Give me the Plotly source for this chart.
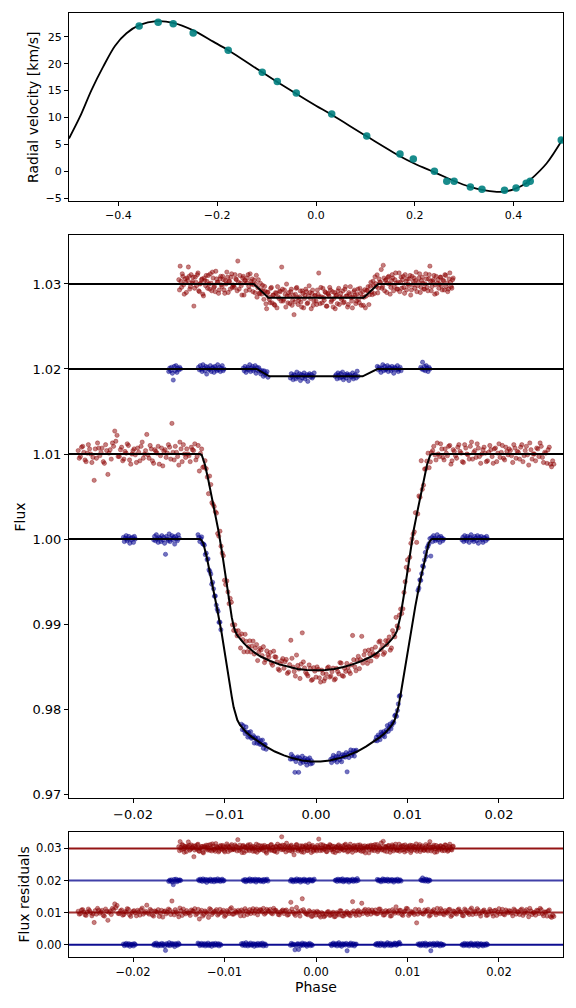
import numpy as np
import plotly.graph_objects as go

# ---------------- Radial velocity panel ----------------
rv_phase = [-0.358, -0.3195, -0.289, -0.2486, -0.1777, -0.1088, -0.0784, -0.0399, 0.0318, 0.1027,
            0.170, 0.197, 0.2397, 0.2647, 0.2796, 0.3125, 0.336, 0.3816, 0.405, 0.4255, 0.4336, 0.4965]
rv_values = [27.0, 27.7, 27.4, 25.7, 22.5, 18.4, 16.7, 14.55, 10.65, 6.56,
             3.2, 2.3, 0.0, -1.86, -1.86, -2.9, -3.35, -3.5, -3.1, -2.2, -1.86, 5.8]

rv_model_phase = [-0.5, -0.478, -0.4545, -0.431, -0.407, -0.3836, -0.3566, -0.323, -0.289, -0.2486,
                  -0.208, -0.1777, -0.1088, -0.0784, -0.0399, 0.0, 0.0318, 0.1027, 0.170, 0.200,
                  0.2377, 0.2647, 0.2796, 0.3125, 0.336, 0.366, 0.3816, 0.400, 0.4255, 0.4336,
                  0.467, 0.5]
rv_model_values = [6.1, 10.1, 15.1, 19.4, 23.3, 25.65, 27.2, 27.9, 27.6, 26.2,
                   24.1, 22.5, 18.4, 16.6, 14.4, 12.2, 10.5, 6.5, 2.8, 1.4,
                   -0.1, -1.2, -1.8, -2.9, -3.45, -3.8, -3.75, -3.35, -2.2, -1.6,
                   1.5, 6.1]

# ---------------- Transit / eclipse models ----------------
blue_pri_model_phase = [-0.0300, -0.01268, -0.01250, -0.01232, -0.01195, -0.01140, -0.01085, -0.01031,
                        -0.00976, -0.00921, -0.00900, -0.00885, -0.00860, -0.00831, -0.00790, -0.00757,
                        -0.00700, -0.00650, -0.00550, -0.00450, -0.00350, -0.00250, -0.00150, -0.00050,
                        0.0,
                        0.00050, 0.00150, 0.00250, 0.00350, 0.00450, 0.00550, 0.00650, 0.00700,
                        0.00757, 0.00790, 0.00831, 0.00860, 0.00885, 0.00900, 0.00921, 0.00976,
                        0.01031, 0.01085, 0.01140, 0.01195, 0.01232, 0.01250, 0.01268, 0.0300]
blue_pri_model_flux = [1.0, 1.0, 0.99985, 0.99949, 0.99792, 0.99518, 0.99204, 0.98891,
                       0.98498, 0.98145, 0.98020, 0.97949, 0.97870, 0.97812, 0.97757, 0.97720,
                       0.97670, 0.97630, 0.97560, 0.97500, 0.97455, 0.97420, 0.97395, 0.97383,
                       0.97380,
                       0.97383, 0.97395, 0.97420, 0.97455, 0.97500, 0.97560, 0.97630, 0.97670,
                       0.97720, 0.97757, 0.97812, 0.97870, 0.97949, 0.98020, 0.98145, 0.98498,
                       0.98891, 0.99204, 0.99518, 0.99792, 0.99949, 0.99985, 1.0, 1.0]

red_pri_model_phase = [-0.0300, -0.01268, -0.01249, -0.01213, -0.01177, -0.01140, -0.01104, -0.01068,
                       -0.01031, -0.00995, -0.00958, -0.00921, -0.00900, -0.00885, -0.00860, -0.00831,
                       -0.00790, -0.00757, -0.00700, -0.00667, -0.00600, -0.00500, -0.00400, -0.00300,
                       -0.00200, -0.00100, 0.0,
                       0.00100, 0.00200, 0.00300, 0.00400, 0.00500, 0.00600, 0.00667, 0.00700,
                       0.00757, 0.00790, 0.00831, 0.00860, 0.00885, 0.00900, 0.00921, 0.00958,
                       0.00995, 0.01031, 0.01068, 0.01104, 0.01140, 0.01177, 0.01213, 0.01249,
                       0.01268, 0.0300]
red_pri_model_flux = [1.01, 1.01, 1.00988, 1.00871, 1.00694, 1.00498, 1.00302, 1.00106,
                      0.99871, 0.99596, 0.99321, 0.99080, 0.98975, 0.98920, 0.98865, 0.98825,
                      0.98775, 0.98740, 0.98690, 0.98660, 0.98615, 0.98565, 0.98525, 0.98495,
                      0.98472, 0.98460, 0.98455,
                      0.98460, 0.98472, 0.98495, 0.98525, 0.98565, 0.98615, 0.98660, 0.98690,
                      0.98740, 0.98775, 0.98825, 0.98865, 0.98920, 0.98975, 0.99080, 0.99321,
                      0.99596, 0.99871, 1.00106, 1.00302, 1.00498, 1.00694, 1.00871, 1.00988,
                      1.01, 1.01]

blue_sec_model_phase = [-0.0300, -0.0065, -0.0051, 0.0051, 0.0067, 0.0300]
blue_sec_model_flux = [1.02, 1.02, 1.01914, 1.01914, 1.02, 1.02]

red_sec_model_phase = [-0.0300, -0.0068, -0.0052, 0.0052, 0.0068, 0.0300]
red_sec_model_flux = [1.03, 1.03, 1.02839, 1.02839, 1.03, 1.03]

# ---------------- Photometric points: phase (1e-5) and residual (1e-4) ----------------
red_pri_phase_e5 = [
    -2600, -2575, -2550, -2525, -2500, -2475, -2450, -2425, -2400, -2375,
    -2350, -2325, -2300, -2275, -2250, -2225, -2200, -2175, -2150, -2125,
    -2100, -2075, -2050, -2025, -2000, -1975, -1950, -1925, -1900, -1875,
    -1850, -1825, -1800, -1775, -1750, -1725, -1700, -1675, -1650, -1625,
    -1600, -1575, -1550, -1525, -1500, -1475, -1450, -1425, -1400, -1375,
    -1350, -1325, -1300, -1275, -1250, -1225, -1200, -1175, -1150, -1125,
    -1100, -1075, -1050, -1025, -1000, -975, -950, -925, -900, -875,
    -850, -825, -800, -775, -750, -725, -700, -675, -650, -625,
    -600, -575, -550, -525, -500, -475, -450, -425, -400, -375,
    -350, -325, -300, -275, -250, -225, -200, -175, -150, -125,
    -100, -75, -50, -25, 0, 25, 50, 75, 100, 125,
    150, 175, 200, 225, 250, 275, 300, 325, 350, 375,
    400, 425, 450, 475, 500, 525, 550, 575, 600, 625,
    650, 675, 700, 725, 750, 775, 800, 825, 850, 875,
    900, 925, 950, 975, 1000, 1025, 1050, 1075, 1100, 1125,
    1150, 1175, 1200, 1225, 1250, 1275, 1300, 1325, 1350, 1375,
    1400, 1425, 1450, 1475, 1500, 1525, 1550, 1575, 1600, 1625,
    1650, 1675, 1700, 1725, 1750, 1775, 1800, 1825, 1850, 1875,
    1900, 1925, 1950, 1975, 2000, 2025, 2050, 2075, 2100, 2125,
    2150, 2175, 2200, 2225, 2250, 2275, 2300, 2325, 2350, 2375,
    2400, 2425, 2450, 2475, 2500, 2525, 2550, 2575, 2600,
    -2588, -2563, -2538, -2513, -2488, -2463, -2438, -2413, -2388, -2363,
    -2338, -2313, -2288, -2263, -2238, -2213, -2188, -2163, -2138, -2113,
    -2088, -2063, -2038, -2013, -1988, -1963, -1938, -1913, -1888, -1863,
    -1838, -1813, -1788, -1763, -1738, -1713, -1688, -1663, -1638, -1613,
    -1588, -1563, -1538, -1513, -1488, -1463, -1438, -1413, -1388, -1363,
    -1338, -1313, -1288, -1263, -1238, -1213, -1188, -1163, -1138, -1113,
    -1088, -1063, -1038, -1013, -988, -963, -938, -913, -888, -863,
    -838, -813, -788, -763, -738, -713, -688, -663, -638, -613,
    -588, -563, -538, -513, -488, -463, -438, -413, -388, -363,
    -338, -313, -288, -263, -238, -213, -188, -163, -138, -113,
    -88, -63, -38, -13, 12, 37, 62, 87, 112, 137,
    162, 187, 212, 237, 262, 287, 312, 337, 362, 387,
    412, 437, 462, 487, 512, 537, 562, 587, 612, 637,
    662, 687, 712, 737, 762, 787, 812, 837, 862, 887,
    912, 937, 962, 987, 1012, 1037, 1062, 1087, 1112, 1137,
    1162, 1187, 1212, 1237, 1262, 1287, 1312, 1337, 1362, 1387,
    1412, 1437, 1462, 1487, 1512, 1537, 1562, 1587, 1612, 1637,
    1662, 1687, 1712, 1737, 1762, 1787, 1812, 1837, 1862, 1887,
    1912, 1937, 1962, 1987, 2012, 2037, 2062, 2087, 2112, 2137,
    2162, 2187, 2212, 2237, 2262, 2287, 2312, 2337, 2362, 2387,
    2412, 2437, 2462, 2487, 2512, 2537, 2562, 2587]
red_pri_resid_e4 = [
    4, -3, 9, -7, 1, 6, -10, -31, -5, 7,
    2, -9, 11, -24, 5, 13, 27, 22, -3, 8,
    -6, 1, 10, -12, 4, -1, 7, -8, 14, 0,
    23, -5, 6, -11, 3, 9, -2, -14, 5, 1,
    8, 36, -7, 2, -13, 6, 11, -4, 0, -9,
    5, 12, -3, -20, 7, -6, 2, -15, 9, -1,
    4, -8, 10, 1, -12, 6, -3, 15, -5, 2,
    7, -10, 3, 12, -6, 9, 5, -2, 11, 4,
    8, 13, -1, 6, 10, -4, 7, 2, -7, 5,
    -3, 8, -6, 32, 1, -9, 4, -11, 43, 2,
    -5, 6, -12, 3, -8, 1, -14, -4, -10, 2,
    -9, -3, -13, 0, -7, 5, -11, -6, -2, -10,
    34, -4, 3, -8, 29, 6, -1, 9, -5, 2,
    8, -3, 11, 4, -7, 0, 6, -10, 3, 18,
    -2, 7, -9, 5, 12, -4, 1, -6, -32, 9,
    37, -5, 2, 10, -8, 4, -1, 13, -3, 6,
    -7, 1, 9, -12, 5, -2, 8, 3, -9, 11,
    0, -6, 14, 2, -4, 7, -11, 5, 1, -8,
    10, -3, 6, -9, 12, 2, -5, 8, -1, 4,
    -10, 7, 3, -6, 11, -2, 9, -13, 5, 0,
    -8, 6, 13, -4, 2, -11, 8, -15, -12,
    -5, 8, 2, -9, 11, 0, -4, 6, 13, -2,
    7, -11, 4, 1, -6, 9, 15, -3, 5, -8,
    3, 12, -7, 0, 6, -10, 2, 9, -5, 4,
    -1, 10, -8, 5, 1, -12, 7, 3, -4, 11,
    -6, 2, 9, -3, 14, -9, 0, 6, -2, 8,
    4, -7, 10, 1, -11, 5, -2, 12, -6, 3,
    9, -4, 0, 7, -8, 2, 11, -5, 6, -1,
    3, 8, -10, 5, 1, -3, 12, 6, -7, 9,
    2, -5, 10, 4, -2, 13, 7, -6, 1, 8,
    5, -8, 3, 11, -4, 16, 0, 6, 9, -3,
    -7, 2, -11, -1, 4, -9, 0, -13, -5, 3,
    -8, 1, -12, -4, 6, -10, -2, 3, -7, 0,
    5, -9, 7, 2, -3, 10, -6, 4, 8, -1,
    -4, 11, 0, -8, 6, 3, -11, 9, -2, 5,
    7, -6, 2, 13, -9, 4, -1, 10, -5, 1,
    -3, 8, 5, -11, 2, 9, -7, 0, 12, -4,
    6, -2, 10, -8, 3, -5, 11, 1, -10, 7,
    -1, 9, -6, 4, 12, -3, 0, 8, -9, 2,
    5, -11, 7, 1, -4, 10, -7, 3, 6, -2,
    11, -5, 2, 8, -9, 4, -1, 13, -6, 0,
    7, -3, 9, -10, 1, 5, -12, -8]

red_sec_phase_e5 = [
    -1500, -1485, -1470, -1455, -1440, -1425, -1410, -1395, -1380, -1365,
    -1350, -1335, -1320, -1305, -1290, -1275, -1260, -1245, -1230, -1215,
    -1200, -1185, -1170, -1155, -1140, -1125, -1110, -1095, -1080, -1065,
    -1050, -1035, -1020, -1005, -990, -975, -960, -945, -930, -915,
    -900, -885, -870, -855, -840, -825, -810, -795, -780, -765,
    -750, -735, -720, -705, -690, -675, -660, -645, -630, -615,
    -600, -585, -570, -555, -540, -525, -510, -495, -480, -465,
    -450, -435, -420, -405, -390, -375, -360, -345, -330, -315,
    -300, -285, -270, -255, -240, -225, -210, -195, -180, -165,
    -150, -135, -120, -105, -90, -75, -60, -45, -30, -15,
    0, 15, 30, 45, 60, 75, 90, 105, 120, 135,
    150, 165, 180, 195, 210, 225, 240, 255, 270, 285,
    300, 315, 330, 345, 360, 375, 390, 405, 420, 435,
    450, 465, 480, 495, 510, 525, 540, 555, 570, 585,
    600, 615, 630, 645, 660, 675, 690, 705, 720, 735,
    750, 765, 780, 795, 810, 825, 840, 855, 870, 885,
    900, 915, 930, 945, 960, 975, 990, 1005, 1020, 1035,
    1050, 1065, 1080, 1095, 1110, 1125, 1140, 1155, 1170, 1185,
    1200, 1215, 1230, 1245, 1260, 1275, 1290, 1305, 1320, 1335,
    1350, 1365, 1380, 1395, 1410, 1425, 1440, 1455, 1470, 1485,
    1500,
    -1492, -1477, -1462, -1447, -1432, -1417, -1402, -1387, -1372, -1357,
    -1342, -1327, -1312, -1297, -1282, -1267, -1252, -1237, -1222, -1207,
    -1192, -1177, -1162, -1147, -1132, -1117, -1102, -1087, -1072, -1057,
    -1042, -1027, -1012, -997, -982, -967, -952, -937, -922, -907,
    -892, -877, -862, -847, -832, -817, -802, -787, -772, -757,
    -742, -727, -712, -697, -682, -667, -652, -637, -622, -607,
    -592, -577, -562, -547, -532, -517, -502, -487, -472, -457,
    -442, -427, -412, -397, -382, -367, -352, -337, -322, -307,
    -292, -277, -262, -247, -232, -217, -202, -187, -172, -157,
    -142, -127, -112, -97, -82, -67, -52, -37, -22, -7,
    8, 23, 38, 53, 68, 83, 98, 113, 128, 143,
    158, 173, 188, 203, 218, 233, 248, 263, 278, 293,
    308, 323, 338, 353, 368, 383, 398, 413, 428, 443,
    458, 473, 488, 503, 518, 533, 548, 563, 578, 593,
    608, 623, 638, 653, 668, 683, 698, 713, 728, 743,
    758, 773, 788, 803, 818, 833, 848, 863, 878, 893,
    908, 923, 938, 953, 968, 983, 998, 1013, 1028, 1043,
    1058, 1073, 1088, 1103, 1118, 1133, 1148, 1163, 1178, 1193,
    1208, 1223, 1238, 1253, 1268, 1283, 1298, 1313, 1328, 1343,
    1358, 1373, 1388, 1403, 1418, 1433, 1448, 1463, 1478, 1493]
red_sec_resid_e4 = [
    5, 21, -4, 9, -12, 2, 7, 20, -6, 11,
    3, -26, 8, -2, 13, -9, 1, 6, -14, 4,
    10, -5, 0, 12, -8, 7, -3, 15, 2, -11,
    6, -1, 9, -7, 4, 14, -10, 3, 8, -4,
    -2, 11, 5, 27, -6, 1, -13, 9, 4, -8,
    7, -3, 12, 0, -9, 5, 2, -12, 10, -5,
    1, 8, -7, 4, -15, 6, -2, 11, -6, 3,
    -9, 5, 13, -1, 7, 36, -4, 9, -11, 2,
    6, -7, 10, -3, -20, 4, 12, -8, 1, -5,
    8, -12, 3, 7, -6, 14, -1, 5, -9, 2,
    -4, 9, 29, -7, 1, 11, -3, 6, -10, 4,
    12, -5, 7, -1, -13, 3, 8, -8, 5, 0,
    -6, 10, 2, -11, 6, 13, -4, 1, 9, -7,
    4, -2, 11, -9, 7, 0, -14, 5, 8, -3,
    10, -6, 3, 12, -1, -10, 6, 2, -5, 22,
    -8, 5, 1, 9, -12, 4, 7, -3, 13, -6,
    2, -9, 8, 5, -4, 11, -7, 0, 6, -13,
    9, 3, -5, 14, -2, 7, -10, 4, 1, -6,
    12, -4, 6, 21, -8, 3, 10, -1, -11, 5,
    0, 8, -7, 4, 11, -3, -9, 6, 2, -5,
    7,
    -7, 3, 12, -1, 6, -10, 4, 9, -3, 1,
    8, -5, 2, 11, -8, 0, 5, -12, 7, -2,
    3, 10, -6, 1, 14, -4, -9, 6, 2, -7,
    9, -3, 5, -11, 0, 8, 3, -6, 12, -1,
    -4, 6, -8, 2, 10, -2, 7, -13, 4, 1,
    11, -7, 3, 6, -1, -9, 13, 0, -5, 8,
    -3, 2, 9, -10, 5, 1, -6, 12, 3, -8,
    6, -12, 1, 8, -4, 10, -2, 4, 16, -6,
    2, 7, -9, 3, -5, 11, 0, -3, 8, -11,
    5, -1, 10, -7, 2, 6, -13, 9, -4, 3,
    -8, 4, 1, 12, -6, 0, 7, -10, 5, 2,
    9, -3, -11, 6, 3, -7, 11, 1, -2, 8,
    -5, 13, 2, -8, 4, 0, -12, 7, 3, -4,
    10, -6, 5, 1, -9, 8, -1, 4, -14, 6,
    -2, 9, -7, 3, 12, -5, 2, 17, -3, 7,
    4, -10, 8, 0, -4, 11, -8, 5, 1, -6,
    13, 2, -5, 9, -11, 3, 6, -2, 10, -7,
    -1, 7, 4, -9, 2, 12, -4, 8, -6, 0,
    6, -8, 11, 3, -3, 5, -12, 9, 1, -5,
    8, -2, 4, -7, 10, 1, -6, 13, -3, 5]

blue_pri_phase_e5 = [
    -2105, -2095, -2085, -2075, -2065, -2055, -2045, -2035, -2025, -2015, -2005, -1995, -1985, -1975,
    -1775, -1765, -1755, -1745, -1735, -1725, -1715, -1705, -1695, -1685, -1675, -1665, -1655, -1645,
    -1635, -1625, -1615, -1605, -1595, -1585, -1575, -1565, -1555, -1545, -1535, -1525, -1515, -1505, -1495,
    -1290, -1280, -1270, -1260, -1250, -1240, -1230, -1220, -1210, -1200, -1190, -1180, -1170,
    -1160, -1150, -1140, -1130, -1120, -1110, -1100, -1090, -1080, -1070, -1060, -1050, -1040,
    -815, -805, -795, -785, -775, -765, -755, -745, -735, -725, -715, -705, -695, -685,
    -675, -665, -655, -645, -635, -625, -615, -605, -595, -585, -575, -565, -555, -545,
    -280, -270, -260, -250, -240, -230, -220, -210, -200, -190, -180, -170, -160,
    -150, -140, -130, -120, -110, -100, -90, -80, -70, -60, -50, -40,
    160, 170, 180, 190, 200, 210, 220, 230, 240, 250, 260, 270, 280, 290, 300,
    310, 320, 330, 340, 350, 360, 370, 380, 390, 400, 410, 420, 430, 440,
    650, 660, 670, 680, 690, 700, 710, 720, 730, 740, 750, 760, 770, 780,
    790, 800, 810, 820, 830, 840, 850, 860, 870, 880, 890, 900, 910, 920,
    1115, 1125, 1135, 1145, 1155, 1165, 1175, 1185, 1195, 1205, 1215, 1225, 1235, 1245, 1255,
    1265, 1275, 1285, 1295, 1305, 1315, 1325, 1335, 1345, 1355, 1365, 1375, 1385, 1395,
    1595, 1605, 1615, 1625, 1635, 1645, 1655, 1665, 1675, 1685, 1695, 1705, 1715, 1725, 1735,
    1745, 1755, 1765, 1775, 1785, 1795, 1805, 1815, 1825, 1835, 1845, 1855, 1865, 1875]
blue_pri_resid_e4 = [
    2, -3, 1, 4, -2, 0, 3, -5, 1, -1, 2, -4, 3, 0,
    -1, 3, -2, 5, 0, -4, 2, 1, -3, 4, -1, 2, -5, -18,
    3, 0, -2, 6, -3, 1, 4, -1, 2, -6, 3, 0, -2, 5, 1,
    5, 2, -3, 1, 4, -2, 0, 3, -4, 2, -1, 5, -3,
    0, 2, -5, 3, 1, -2, 4, -1, 0, 3, -4, 2, -1,
    3, -2, 4, 0, -3, 6, 1, -4, 2, -1, 5, -2, 0, 3,
    -5, 2, 1, -3, 4, 0, -2, 3, -1, 5, -4, 1, 2, -3,
    -2, 4, -1, 2, 0, -16, -3, 1, 3, -15, 2, -4, 0,
    5, -2, 1, 3, -1, -5, 2, 0, 4, -3, 1, -2,
    1, -3, 2, 5, -1, 0, 3, -4, 2, 6, -2, 1, -5, 3, 0,
    2, -1, 4, -19, 1, -3, 2, 5, -2, 0, 3, -4, 1, 2,
    0, 3, -2, 4, 1, -3, 5, 2, -1, 3, -4, 0, 2, 6,
    -2, 1, 4, -3, 0, 2, -1, 5, 3, -2, 1, 4, 7, 2,
    2, -1, 3, -3, 0, 4, -2, 1, 5, -4, 2, 0, -1, 3, -19,
    2, -3, 4, 1, -2, 0, 5, -1, 2, -4, 3, 1, -2, 0,
    -1, 2, -3, 4, 0, -2, 3, 1, -4, 2, 5, -1, 0, -3, 3,
    1, -2, 4, -5, 2, 0, 3, -1, -4, 2, 1, -2, 3, 0]

blue_sec_phase_e5 = [
    -1610, -1600, -1590, -1580, -1570, -1560, -1550, -1540, -1530, -1520, -1510, -1500, -1490, -1480,
    -1285, -1275, -1265, -1255, -1245, -1235, -1225, -1215, -1205, -1195, -1185, -1175, -1165, -1155,
    -1145, -1135, -1125, -1115, -1105, -1095, -1085, -1075, -1065, -1055, -1045, -1035, -1025, -1015, -1005,
    -795, -785, -775, -765, -755, -745, -735, -725, -715, -705, -695, -685, -675, -665,
    -655, -645, -635, -625, -615, -605, -595, -585, -575, -565, -555, -545, -535, -525,
    -280, -270, -260, -250, -240, -230, -220, -210, -200, -190, -180, -170, -160, -150,
    -140, -130, -120, -110, -100, -90, -80, -70, -60, -50, -40, -30, -20,
    210, 220, 230, 240, 250, 260, 270, 280, 290, 300, 310, 320, 330,
    340, 350, 360, 370, 380, 390, 400, 410, 420, 430, 440, 450, 460,
    670, 680, 690, 700, 710, 720, 730, 740, 750, 760, 770, 780, 790, 800,
    810, 820, 830, 840, 850, 860, 870, 880, 890, 900, 910, 920, 930,
    1145, 1155, 1165, 1175, 1185, 1195, 1205, 1215, 1225, 1235, 1245]
blue_sec_resid_e4 = [
    -3, 1, -2, 2, -5, -13, 3, -2, 4, -4, 1, -1, 2, 0,
    2, -1, 4, 0, -3, 5, 1, -2, 3, -6, 2, 0, -1, 4,
    -3, 1, 2, -4, 3, 0, -2, 5, -1, 2, -3, 1, 4, -2, 0,
    1, -2, 3, -4, 0, 2, -1, 5, -3, 1, 3, -2, 0, 4,
    -5, 2, -1, 3, 1, -3, 0, 2, -4, 3, -1, 1, 4, -2,
    -2, 3, 0, -4, 2, 1, -3, 5, -1, 0, 3, -5, 2, -2,
    1, 4, -3, 0, 2, -6, 1, 3, -1, 2, -2, 0, 4,
    0, 2, -3, 4, 1, -2, 3, -1, 5, -4, 0, 2, -2,
    3, 1, -5, 2, 0, -1, 4, -3, 1, 2, -2, 6, 0,
    3, -1, 2, 0, -4, 1, 5, -2, 3, -1, 0, 4, -3, 2,
    1, -2, 3, 0, -5, 2, 1, -1, 4, -3, 0, 2, -2,
    2, 0, 8, -1, 3, -2, 4, 1, -3, 2, 0]

resid_offsets = {"blue_pri": 0.00, "red_pri": 0.01, "blue_sec": 0.02, "red_sec": 0.03}

# ---------------- styles ----------------
RED = "rgba(139,0,0,0.5)"
RED_EDGE = "rgba(139,0,0,0.6)"
BLUE = "rgba(0,0,139,0.55)"
BLUE_EDGE = "rgba(0,0,139,0.6)"

series = [
    ("blue_pri", blue_pri_phase_e5, blue_pri_resid_e4, blue_pri_model_phase, blue_pri_model_flux, BLUE, BLUE_EDGE),
    ("blue_sec", blue_sec_phase_e5, blue_sec_resid_e4, blue_sec_model_phase, blue_sec_model_flux, BLUE, BLUE_EDGE),
    ("red_pri", red_pri_phase_e5, red_pri_resid_e4, red_pri_model_phase, red_pri_model_flux, RED, RED_EDGE),
    ("red_sec", red_sec_phase_e5, red_sec_resid_e4, red_sec_model_phase, red_sec_model_flux, RED, RED_EDGE),
]

fig = go.Figure()

# RV panel
fig.add_trace(go.Scatter(x=rv_model_phase, y=rv_model_values, mode="lines",
                         line=dict(color="black", width=1.8, shape="spline", smoothing=0.9),
                         xaxis="x", yaxis="y", hoverinfo="skip"))
fig.add_trace(go.Scatter(x=rv_phase, y=rv_values, mode="markers",
                         marker=dict(size=7.5, color="rgba(0,128,128,0.9)", line=dict(width=0)),
                         xaxis="x", yaxis="y"))

# Flux and residual points
for name, ph, res, mph, mfl, col, edge in series:
    n = min(len(ph), len(res))
    p = np.array(ph[:n]) * 1e-5
    r = np.array(res[:n]) * 1e-4
    model_at_p = np.interp(p, mph, mfl)
    mk = dict(size=4.3, color=col, line=dict(width=0.6, color=edge))
    fig.add_trace(go.Scatter(x=p, y=model_at_p + r, mode="markers", marker=mk,
                             xaxis="x2", yaxis="y2"))
    fig.add_trace(go.Scatter(x=p, y=r + resid_offsets[name], mode="markers", marker=mk,
                             xaxis="x3", yaxis="y3"))

# Model lines
for name, ph, res, mph, mfl, col, edge in series:
    fig.add_trace(go.Scatter(x=mph, y=mfl, mode="lines", line=dict(color="black", width=2),
                             xaxis="x2", yaxis="y2", hoverinfo="skip"))

resid_line_colors = {"blue_pri": "rgba(0,0,139,0.95)", "red_pri": "rgba(139,0,0,0.8)",
                     "blue_sec": "rgba(0,0,139,0.75)", "red_sec": "rgba(139,0,0,0.92)"}
for name, off in resid_offsets.items():
    fig.add_trace(go.Scatter(x=[-0.03, 0.03], y=[off, off], mode="lines",
                             line=dict(color=resid_line_colors[name], width=2),
                             xaxis="x3", yaxis="y3", hoverinfo="skip"))

axis_common = dict(showline=True, mirror=True, linecolor="black", linewidth=1,
                   ticks="outside", ticklen=4, tickwidth=1, tickcolor="black",
                   showgrid=False, zeroline=False)

# page body has an 8 px margin, so the figure is 8 px smaller and margins shifted
fig.update_layout(
    width=568, height=1000, autosize=False,
    margin=dict(l=61, r=13, t=5, b=51),
    plot_bgcolor="white", paper_bgcolor="white", showlegend=False,
    font=dict(family="DejaVu Sans", color="black"),
    xaxis=dict(domain=[0, 1], anchor="y", range=[-0.5, 0.5],
               tickvals=[-0.4, -0.2, 0.0, 0.2, 0.4], tickformat=".1f",
               tickfont=dict(size=11), **axis_common),
    yaxis=dict(domain=[0.8008, 1.0], anchor="x", range=[-5.52, 29.42],
               tickvals=[-5, 0, 5, 10, 15, 20, 25], tickfont=dict(size=11), **axis_common),
    xaxis2=dict(domain=[0, 1], anchor="y2", range=[-0.027, 0.027],
                tickvals=[-0.02, -0.01, 0.0, 0.01, 0.02], tickformat=".2f",
                tickfont=dict(size=13), **axis_common),
    yaxis2=dict(domain=[0.1684, 0.7648], anchor="x2", range=[0.96953, 1.03576],
                tickvals=[0.97, 0.98, 0.99, 1.00, 1.01, 1.02, 1.03], tickformat=".2f",
                tickfont=dict(size=13), **axis_common),
    xaxis3=dict(domain=[0, 1], anchor="y3", range=[-0.027, 0.027],
                tickvals=[-0.02, -0.01, 0.0, 0.01, 0.02], tickformat=".2f",
                tickfont=dict(size=11.5), **axis_common),
    yaxis3=dict(domain=[0, 0.1324], anchor="x3", range=[-0.00384, 0.0351],
                tickvals=[0.0, 0.01, 0.02, 0.03], tickformat=".2f",
                tickfont=dict(size=11.5), **axis_common),
    annotations=[
        dict(text="Radial velocity [km/s]", xref="paper", yref="paper", x=-0.0729, y=0.9004,
             textangle=-90, showarrow=False, xanchor="center", yanchor="middle", font=dict(size=14)),
        dict(text="Flux", xref="paper", yref="paper", x=-0.0992, y=0.4666,
             textangle=-90, showarrow=False, xanchor="center", yanchor="middle", font=dict(size=14)),
        dict(text="Flux residuals", xref="paper", yref="paper", x=-0.0931, y=0.0662,
             textangle=-90, showarrow=False, xanchor="center", yanchor="middle", font=dict(size=14)),
        dict(text="Phase", xref="paper", yref="paper", x=0.5, y=-0.0318,
             showarrow=False, xanchor="center", yanchor="middle", font=dict(size=14)),
    ],
)

fig.write_html("out.html")
